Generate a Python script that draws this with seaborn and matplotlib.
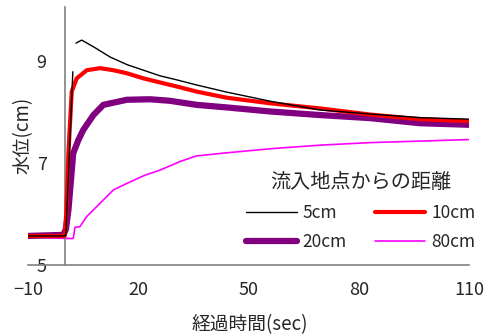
import numpy as np
import pandas as pd
import matplotlib
matplotlib.use("Agg")
import matplotlib.pyplot as plt
import seaborn as sns

sns.set_style("white")
plt.rcParams['font.family'] = ['Noto Sans CJK JP', 'DejaVu Sans']
plt.rcParams['axes.unicode_minus'] = True

# 5cm: rise segment, then (after a gap) the rest
x5_rise = [-10, 0.0, 0.3, 2.2]
y5_rise = [5.57, 5.57, 5.6, 8.79]
x5 = [3.06, 4.6, 7.8, 12.3, 16.9, 21.4, 25.9, 30.5, 35.9, 44.1, 56.0, 69.5, 83.1, 96.7, 110]
y5 = [9.35, 9.41, 9.28, 9.08, 8.93, 8.82, 8.71, 8.63, 8.53, 8.39, 8.21, 8.04, 7.96, 7.89, 7.86]

x10 = [-10, 0.0, 0.4, 1.0, 1.9, 3.25, 6.0, 9.6, 13.2, 16.9, 21.4, 25.9, 30.5, 35.9, 44.1, 56.0, 69.5, 83.1, 96.7, 110]
y10 = [5.57, 5.57, 6.0, 7.2, 8.4, 8.66, 8.82, 8.86, 8.82, 8.76, 8.66, 8.58, 8.5, 8.4, 8.28, 8.17, 8.07, 7.95, 7.86, 7.82]

x20 = [-10, -0.4, 0.3, 1.0, 2.3, 3.7, 5.05, 7.8, 10.5, 16.9, 23.2, 28.6, 35.9, 44.1, 56.0, 69.5, 83.1, 96.7, 110]
y20 = [5.57, 5.59, 5.7, 6.08, 7.19, 7.45, 7.65, 7.94, 8.14, 8.24, 8.25, 8.22, 8.14, 8.09, 8.01, 7.94, 7.88, 7.78, 7.75]

x80 = [-10, 0.5, 2.3, 2.8, 4.1, 5.97, 9.6, 13.2, 16.9, 21.8, 25.9, 31.4, 35.9, 44.1, 56.0, 69.5, 83.1, 96.7, 110]
y80 = [5.55, 5.52, 5.52, 5.74, 5.75, 5.95, 6.21, 6.47, 6.6, 6.76, 6.86, 7.03, 7.14, 7.2, 7.28, 7.35, 7.4, 7.43, 7.46]

xticks = [-10, 20, 50, 80, 110]
yticks = [5, 7, 9]
labels = ['5cm', '10cm', '20cm', '80cm']

fig = plt.figure(figsize=(4.93, 3.36), dpi=100)
ax = fig.add_axes([0.0568, 0.2113, 0.8945, 0.768])

sns.lineplot(x=x80, y=y80, ax=ax, color='#FF00FF', lw=1.2, label=labels[3], estimator=None, sort=False, zorder=2)
sns.lineplot(x=x20, y=y20, ax=ax, color='#800080', lw=4.5, label=labels[2], estimator=None, sort=False, zorder=3)
sns.lineplot(x=x10, y=y10, ax=ax, color='#FF0000', lw=3.0, label=labels[1], estimator=None, sort=False, zorder=4)
sns.lineplot(x=x5_rise, y=y5_rise, ax=ax, color='black', lw=1.0, legend=False, estimator=None, sort=False, zorder=5)
sns.lineplot(x=x5, y=y5, ax=ax, color='black', lw=1.0, label=labels[0], estimator=None, sort=False, zorder=5)

ax.set_xlim(-10, 110)
ax.set_ylim(5, 10.06)
ax.set_xticks(xticks)
ax.set_yticks(yticks)
ax.set_xticklabels(['\u221210', '20', '50', '80', '110'])

for s in ['top', 'right']:
    ax.spines[s].set_visible(False)
ax.spines['left'].set_position(('data', 0))
for s in ['left', 'bottom']:
    ax.spines[s].set_color('#808080')
    ax.spines[s].set_linewidth(1.2)

ax.tick_params(axis='x', direction='in', length=5, width=1, color='#555555', labelsize=13, pad=11.5)
ax.tick_params(axis='y', direction='in', length=5, width=1, color='#555555', labelsize=13, pad=13)

ax.set_xlabel('経過時間(sec)', fontsize=13.5)
ax.set_ylabel('水位(cm)', fontsize=13.5)
ax.xaxis.set_label_coords(0.503, -0.19)
ax.yaxis.set_label_coords(0.013, 0.504)

h, l = ax.get_legend_handles_labels()
col_order = ['5cm', '20cm', '10cm', '80cm']
order = [l.index(x) for x in col_order]
leg = ax.legend([h[i] for i in order], [l[i] for i in order], ncol=2, frameon=False,
                title='流入地点からの距離', title_fontsize=14.5, fontsize=12.5,
                loc='center', bbox_to_anchor=(0.755, 0.208),
                handlelength=2.9, handletextpad=0.35, columnspacing=1.6, labelspacing=0.65,
                borderpad=0.2)

fig.savefig('out.png', dpi=100)
